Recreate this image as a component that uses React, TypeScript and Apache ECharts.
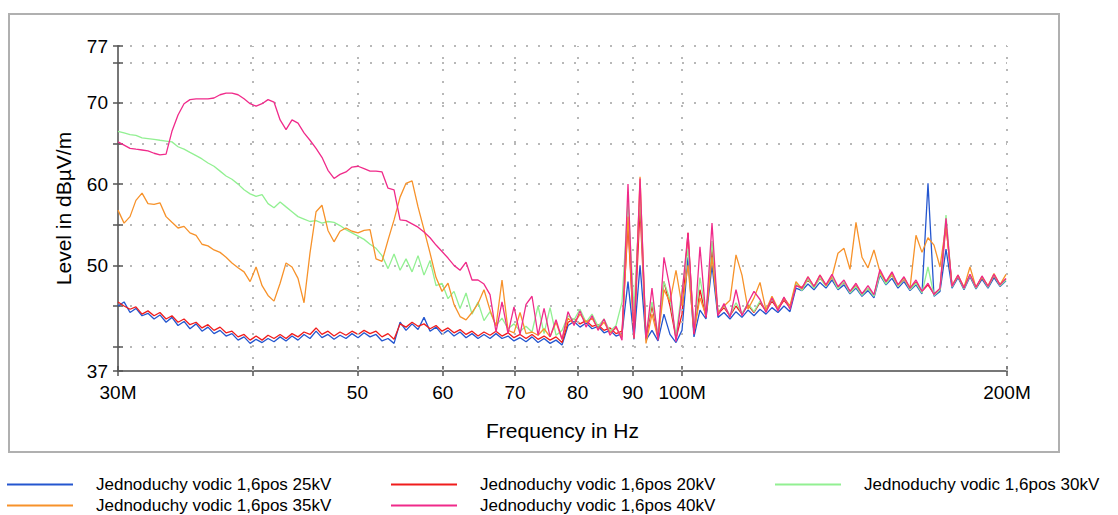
import { useEffect, useRef } from 'react';
import * as echarts from 'echarts';

// Frequency grid (MHz)
const freqMHz = [
  30.00, 30.39, 30.78, 31.17, 31.58, 31.98, 32.40, 32.81, 33.24, 33.66,
  34.10, 34.54, 34.98, 35.44, 35.89, 36.35, 36.82, 37.30, 37.78, 38.26,
  38.76, 39.26, 39.77, 40.28, 40.80, 41.32, 41.85, 42.40, 42.94, 43.49,
  44.05, 44.62, 45.19, 45.78, 46.36, 46.96, 47.57, 48.18, 48.80, 49.43,
  50.07, 50.72, 51.37, 52.03, 52.70, 53.38, 54.07, 54.77, 55.47, 56.19,
  56.91, 57.64, 58.39, 59.14, 59.90, 60.67, 61.45, 62.25, 63.05, 63.86,
  64.68, 65.51, 66.36, 67.21, 68.08, 68.96, 69.84, 70.75, 71.66, 72.58,
  73.52, 74.47, 75.43, 76.40, 77.38, 78.38, 79.39, 80.41, 81.45, 82.50,
  83.56, 84.64, 85.73, 86.83, 87.95, 89.08, 90.23, 91.40, 92.57, 93.76,
  94.97, 96.19, 97.43, 98.69, 99.96, 101.25, 102.55, 103.87, 105.21, 106.57,
  107.94, 109.33, 110.74, 112.17, 113.61, 115.08, 116.56, 118.06, 119.58, 121.12,
  122.68, 124.26, 125.86, 127.48, 129.13, 130.79, 132.48, 134.18, 135.91, 137.66,
  139.44, 141.24, 143.06, 144.90, 146.77, 148.66, 150.57, 152.51, 154.48, 156.47,
  158.49, 160.53, 162.60, 164.70, 166.82, 168.97, 171.15, 173.35, 175.59, 177.85,
  180.14, 182.46, 184.81, 187.19, 189.61, 192.05, 194.52, 197.03, 199.57,
];

// Levels in dBµV/m
const level25kV = [
  45.0, 45.5, 44.2, 44.7, 43.8, 44.1, 43.4, 43.9, 43.0, 43.6,
  42.6, 43.1, 42.2, 42.8, 41.9, 42.4, 41.6, 42.0, 41.3, 41.6,
  40.8, 41.2, 40.4, 40.9, 40.5, 41.0, 40.6, 41.2, 40.7, 41.3,
  40.8, 41.5, 41.0, 41.9, 41.1, 41.5, 40.9, 41.4, 41.0, 41.6,
  41.1, 41.7, 41.2, 41.5, 40.7, 41.0, 40.4, 43.0, 42.0, 42.8,
  42.1, 43.6, 41.9, 42.4, 41.5, 42.0, 41.3, 41.8, 41.1, 41.6,
  41.0, 41.5, 41.0, 41.6, 41.0, 41.3, 40.7, 41.1, 40.6, 41.2,
  40.5, 41.0, 40.4, 40.8, 40.2, 42.6, 43.1, 42.4, 42.9, 42.2,
  42.5, 41.7, 42.0, 41.3, 41.6, 48.0, 40.9, 50.0, 40.8, 42.0,
  40.7, 44.0, 41.5, 40.5, 42.0, 51.0, 41.2, 44.5, 43.4, 50.0,
  43.6, 44.2, 43.4, 44.3, 43.6, 44.5, 43.8, 44.6, 44.0, 44.8,
  44.2, 45.0, 44.3, 47.2, 46.9, 47.7, 47.0, 47.9, 47.2, 48.2,
  47.0, 47.6, 46.5, 47.2, 46.2, 46.9, 46.0, 48.8, 47.6, 48.4,
  47.2, 48.0, 46.9, 47.6, 46.5, 60.1, 46.2, 46.8, 52.0, 47.2,
  48.5, 47.0, 48.6, 47.1, 48.3, 47.2, 48.5, 47.4, 48.1,
];

const level20kV = [
  45.5, 45.0, 44.6, 44.9, 44.0, 44.4, 43.8, 44.2, 43.4, 43.8,
  43.0, 43.4, 42.7, 43.0, 42.3, 42.7, 42.0, 42.4, 41.7, 41.9,
  41.2, 41.5, 40.8, 41.3, 40.8, 41.4, 41.0, 41.5, 41.0, 41.6,
  41.2, 41.8, 41.5, 42.3, 41.5, 41.9, 41.3, 41.8, 41.4, 41.9,
  41.5, 42.0, 41.6, 41.9, 41.2, 41.6, 40.9, 42.8, 42.4, 43.0,
  42.5, 42.8, 42.2, 42.6, 41.9, 42.3, 41.7, 42.1, 41.5, 41.9,
  41.3, 41.8, 41.4, 41.9, 41.3, 41.7, 41.1, 41.5, 41.0, 41.5,
  40.9, 41.3, 40.8, 41.2, 40.5, 43.0, 43.4, 42.8, 43.2, 42.5,
  42.7, 42.0, 42.3, 41.6, 41.9, 55.0, 41.2, 57.0, 41.0, 45.0,
  41.2, 48.0, 45.0, 41.0, 44.0, 54.0, 41.6, 47.0, 43.6, 52.0,
  44.0, 44.8, 43.8, 45.0, 44.0, 45.1, 44.2, 45.4, 44.4, 45.6,
  44.6, 45.7, 44.8, 47.6, 47.3, 48.2, 47.4, 48.4, 47.6, 48.5,
  47.3, 47.9, 46.8, 47.5, 46.5, 47.2, 46.3, 49.2, 47.9, 48.8,
  47.5, 48.3, 47.1, 47.9, 46.8, 47.6, 46.5, 47.1, 55.0, 47.5,
  48.6, 47.3, 48.8, 47.3, 48.5, 47.4, 48.7, 47.6, 48.3,
];

const level30kV = [
  66.5, 66.3, 66.1, 66.0, 65.7, 65.6, 65.5, 65.4, 65.3, 65.2,
  64.6, 64.3, 63.9, 63.5, 63.1, 62.6, 62.2, 61.6, 61.0, 60.6,
  60.0, 59.3, 58.8, 58.5, 58.7, 57.6, 57.1, 57.8, 57.2, 56.6,
  56.0, 55.7, 55.4, 55.5, 55.2, 55.4, 55.3, 54.9, 54.4, 54.0,
  53.6, 53.2, 52.6, 52.1, 51.2, 49.6, 51.4, 49.4, 50.8, 49.2,
  51.2, 48.8, 50.6, 47.5, 47.8, 45.9, 46.8, 44.7, 46.6, 44.0,
  45.5, 43.2, 44.3, 42.6, 43.5, 42.2, 42.8, 41.9, 42.5, 41.8,
  45.0, 41.6, 44.8, 41.4, 42.0, 43.8, 43.3, 44.6, 43.0, 44.0,
  42.5, 43.4, 41.9, 42.6, 45.5, 58.0, 44.4, 59.0, 41.5, 45.5,
  41.6, 48.0, 45.8, 41.4, 47.0, 52.0, 42.0, 48.5, 44.0, 53.0,
  44.2, 45.0, 43.9, 45.4, 44.1, 45.3, 44.3, 45.6, 44.5, 45.8,
  44.7, 46.0, 44.8, 47.8, 46.9, 48.3, 47.2, 48.5, 47.4, 48.6,
  47.1, 48.0, 46.6, 47.4, 46.3, 47.2, 46.2, 49.0, 47.7, 48.9,
  47.4, 48.4, 47.0, 47.8, 46.6, 49.8, 46.3, 47.0, 56.2, 47.3,
  48.7, 47.1, 48.8, 47.2, 48.6, 47.3, 48.8, 47.5, 48.2,
];

const level35kV = [
  56.8, 55.2, 56.0, 58.0, 58.9, 57.6, 57.5, 57.7, 56.0, 55.3,
  54.6, 54.8, 54.0, 53.7, 52.6, 52.4, 51.9, 51.6, 51.0, 50.3,
  49.7, 49.2, 48.0, 49.8, 47.5, 46.3, 45.6, 47.8, 50.3, 49.8,
  48.4, 45.4, 51.5, 56.6, 57.4, 54.3, 52.9, 54.2, 54.6, 54.2,
  54.0, 54.3, 54.4, 50.8, 50.5, 53.1, 55.6, 58.4, 60.1, 60.4,
  57.2, 54.4, 51.5, 48.5, 46.8, 47.8, 45.2, 43.7, 43.3, 44.2,
  45.3, 47.0, 44.5, 42.5, 48.2, 42.0, 41.7, 44.2, 41.6, 41.8,
  41.4, 42.2, 41.2, 43.0, 40.9, 43.5, 42.8, 44.0, 43.0, 43.5,
  42.2, 43.0, 41.7, 42.3, 41.2, 56.0, 41.0, 60.9, 40.4, 44.0,
  41.0, 47.0, 45.5, 49.4, 45.0, 50.0, 41.8, 46.0, 43.8, 51.0,
  44.2, 45.0, 45.7, 51.3, 48.8, 44.6, 46.0, 47.9, 44.5, 46.2,
  44.7, 46.0, 45.0, 48.0, 47.1, 48.6, 47.4, 48.8, 47.5, 48.6,
  51.5, 52.1, 49.5, 55.3, 51.0, 49.7, 51.9, 49.2, 48.0, 49.0,
  47.6, 48.5, 47.2, 53.7, 51.6, 53.4, 52.5, 49.8, 55.0, 47.5,
  48.8, 47.3, 49.8, 47.3, 48.6, 47.5, 49.0, 47.6, 48.9,
];

const level40kV = [
  65.2, 64.8, 64.4, 64.3, 64.2, 64.1, 63.8, 63.6, 63.7, 66.5,
  68.5, 69.9, 70.4, 70.5, 70.5, 70.5, 70.6, 71.0, 71.2, 71.2,
  71.0, 70.5, 69.9, 69.6, 69.9, 70.4, 70.1, 67.9, 66.7, 67.9,
  67.5, 66.3, 65.4, 64.4, 63.3, 61.7, 60.7, 61.2, 61.5, 62.1,
  62.2, 61.9, 61.6, 61.6, 61.5, 59.5, 59.3, 55.6, 55.5, 55.1,
  54.7, 54.1, 53.4, 52.5, 51.7, 50.9, 50.0, 49.4, 50.4, 48.2,
  48.2, 47.7, 46.4, 41.8, 45.5, 41.6, 44.9, 41.5, 45.2, 46.2,
  41.4, 44.7, 41.2, 43.3, 40.9, 44.3, 42.6, 44.4, 42.4, 43.8,
  42.0, 43.4, 41.4, 42.5, 40.8, 60.0, 41.0, 60.7, 41.0, 47.2,
  40.8, 51.0, 47.2, 40.6, 46.4, 54.0, 41.5, 52.3, 43.6, 55.2,
  43.8, 45.3, 43.6, 47.0, 43.8, 45.4, 46.8, 45.8, 44.2, 46.0,
  44.4, 46.1, 44.6, 47.5, 47.2, 48.6, 47.4, 48.8, 47.6, 48.9,
  47.4, 48.2, 46.8, 47.8, 46.5, 47.5, 46.4, 49.5, 48.0, 49.2,
  47.6, 48.6, 47.2, 48.2, 46.8, 47.8, 46.4, 47.2, 55.8, 47.4,
  48.8, 47.2, 48.9, 47.3, 48.7, 47.4, 48.9, 47.6, 48.4,
];

const seriesNames = [
  'Jednoduchy vodic 1,6pos 25kV',
  'Jednoduchy vodic 1,6pos 20kV',
  'Jednoduchy vodic 1,6pos 30kV',
  'Jednoduchy vodic 1,6pos 35kV',
  'Jednoduchy vodic 1,6pos 40kV',
];
const seriesColors = ['#2456cf', '#f01c1c', '#92f092', '#f7922a', '#f02a8a'];

const xTickValues = [30, 40, 50, 60, 70, 80, 90, 100, 200];
const xLabelValues = [30, 50, 60, 70, 80, 90, 100, 200];
const xLabelText = ['30M', '50', '60', '70', '80', '90', '100M', '200M'];
const yLabelValues = [37, 50, 60, 70, 77];

export default function App() {
  const ref = useRef<HTMLDivElement>(null);
  useEffect(() => {
    const chart = echarts.init(ref.current!, null, { renderer: 'svg' });
    const levels = [level25kV, level20kV, level30kV, level35kV, level40kV];
    const font = "'Liberation Sans', Arial, sans-serif";
    const legendTop = [[7, 476], [391, 476], [775, 476], [7, 497], [391, 497]];
    const tickStyle = { color: '#555', width: 1.5 };
    const axisLineStyle = { color: '#777', width: 2 };
    const xBase = {
      type: 'log',
      logBase: 10,
      min: 30,
      max: 200,
      position: 'bottom',
      splitLine: { show: false },
    };
    const yBase = {
      type: 'value',
      min: 37,
      max: 77,
      splitNumber: 8,
      minInterval: 5,
      maxInterval: 5,
      position: 'left',
    };
    const option: any = {
      animation: false,
      backgroundColor: '#ffffff',
      textStyle: { fontFamily: font },
      grid: { left: 118, right: 111, top: 46, bottom: 144 },
      graphic: [
        {
          type: 'rect',
          silent: true,
          z: -10,
          shape: { x: 9, y: 14, width: 1050, height: 438 },
          style: { fill: 'none', stroke: '#b0b0b0', lineWidth: 2 },
        },
      ],
      xAxis: [
        {
          ...xBase,
          name: 'Frequency in Hz',
          nameLocation: 'middle',
          nameGap: 49,
          nameTextStyle: { fontSize: 21, color: '#000', fontFamily: font },
          axisLine: { show: true, lineStyle: axisLineStyle },
          axisTick: { show: true, customValues: xTickValues, length: 5, lineStyle: tickStyle },
          axisLabel: {
            show: true,
            customValues: xLabelValues,
            margin: 12,
            fontSize: 19,
            color: '#000',
            fontFamily: font,
            formatter: (v: number) => {
              const k = xLabelValues.indexOf(Math.round(v));
              return k >= 0 ? xLabelText[k] : '';
            },
          },
        },
        {
          ...xBase,
          axisLine: { show: false },
          axisTick: { show: true, inside: true, customValues: xTickValues, length: 5, lineStyle: tickStyle },
          axisLabel: { show: false },
        },
      ],
      yAxis: [
        {
          ...yBase,
          name: 'Level in dBµV/m',
          nameLocation: 'middle',
          nameGap: 44,
          nameTextStyle: { fontSize: 21, color: '#000', fontFamily: font },
          axisLine: { show: true, lineStyle: axisLineStyle },
          axisTick: { show: true, length: 5, lineStyle: tickStyle },
          axisLabel: {
            margin: 10,
            fontSize: 19,
            color: '#000',
            fontFamily: font,
            formatter: (v: number) => (yLabelValues.indexOf(Math.round(v)) >= 0 ? String(Math.round(v)) : ''),
          },
          splitLine: { show: true, lineStyle: { type: [2, 10], color: '#b8b8b8', width: 2 } },
        },
        {
          ...yBase,
          axisLine: { show: false },
          axisTick: { show: true, inside: true, length: 5, lineStyle: tickStyle },
          axisLabel: { show: false },
          splitLine: { show: false },
        },
      ],
      legend: seriesNames.map((n, k) => ({
        data: [n],
        left: legendTop[k][0],
        top: legendTop[k][1],
        padding: 0,
        icon: 'rect',
        itemWidth: 66,
        itemHeight: 2,
        selectedMode: false,
        textStyle: { fontSize: 17, color: '#000', fontFamily: font, padding: [0, 0, 0, 18] },
      })),
      series: levels.map((lv, k) => ({
        type: 'line',
        name: seriesNames[k],
        xAxisIndex: 0,
        yAxisIndex: 0,
        data: freqMHz.map((f, i) => [f, lv[i]]),
        showSymbol: false,
        symbol: 'none',
        lineStyle: { color: seriesColors[k], width: 1.3 },
        itemStyle: { color: seriesColors[k] },
        z: 3 + k,
        markLine:
          k === 0
            ? {
                silent: true,
                symbol: ['none', 'none'],
                label: { show: false },
                lineStyle: { type: [2, 10], color: '#b8b8b8', width: 2 },
                data: xTickValues.slice(1).map((v) => ({ xAxis: v })),
              }
            : undefined,
      })),
    };
    chart.setOption(option);
    return () => chart.dispose();
  }, []);
  return (
    <div
      ref={ref}
      style={{ position: 'absolute', left: 0, top: 0, width: 1118, height: 515, background: '#fff' }}
    />
  );
}
